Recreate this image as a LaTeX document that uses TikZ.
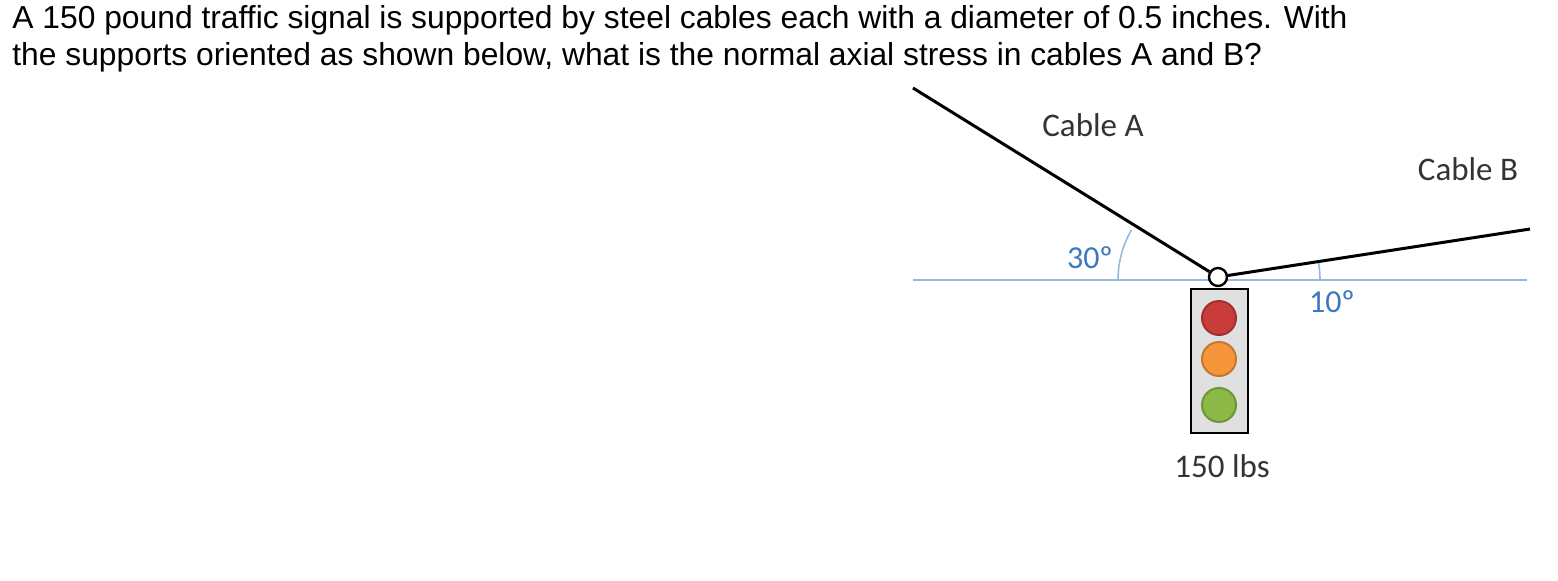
\documentclass[tikz,border=0pt]{standalone}
\usepackage{fontspec}
\setmainfont{Liberation Sans}
\newfontfamily\carfont{Carlito}
\definecolor{lblue}{RGB}{150,185,225}
\definecolor{tblue}{RGB}{60,120,190}
\definecolor{lred}{RGB}{200,60,60}
\definecolor{lorange}{RGB}{245,150,60}
\definecolor{lgreen}{RGB}{140,185,70}
\tikzset{lbl/.style={font=\carfont\fontsize{16.5}{18}\selectfont,text=black!80},
ang/.style={font=\carfont\fontsize{16}{18}\selectfont,text=tblue},
lamp/.style={circle,minimum size=17pt,inner sep=0pt,line width=1pt}}
\begin{document}
\begin{tikzpicture}[x=0.5pt,y=-0.5pt]
\useasboundingbox (0,0) rectangle (1558,580);
\node[anchor=north west,align=left,font=\fontsize{15.9}{18.5}\selectfont,inner sep=0pt] (q) at (12,5) {A 150 pound traffic signal is supported by steel cables each with a diameter of 0.5 inches. With\\the supports oriented as shown below, what is the normal axial stress in cables A and B?};
\coordinate (L) at (913,280); \coordinate (R) at (1527,280);
\draw[lblue,line width=1pt] (L) -- (R);
\coordinate (O) at (1218,280);
\draw[lblue,line width=0.8pt] (1118,280) arc[start angle=180,end angle=210,radius=100];
\draw[lblue,line width=0.8pt] (1320,280) arc[start angle=0,end angle=-10,radius=102];
\node[draw,line width=1.2pt,fill=black!12,minimum width=28.5pt,minimum height=72pt,inner sep=0pt] (box) at (1219.5,361) {};
\node[lamp,draw=lred!80!black,fill=lred] (r) at (1219,318) {};
\node[lamp,draw=lorange!80!black,fill=lorange] (o) at (1219,359) {};
\node[lamp,draw=lgreen!80!black,fill=lgreen] (g) at (1219,405) {};
\coordinate (A) at (913,88); \coordinate (B) at (1530,229);
\node[circle,draw,line width=1.2pt,fill=white,minimum size=9pt,inner sep=0pt] (ring) at (1218,277) {};
\draw[line width=1.5pt] (A) -- (ring);
\draw[line width=1.5pt] (ring) -- (B);
\node[lbl] (ca) at (1093,125) {Cable A};
\node[lbl] (cb) at (1468,169) {Cable B};
\node[lbl] (w) at (1222,466) {150 lbs};
\node[ang] (a30) at (1090,258) {30º};
\node[ang] (a10) at (1332,302) {10º};
\end{tikzpicture}
\end{document}
